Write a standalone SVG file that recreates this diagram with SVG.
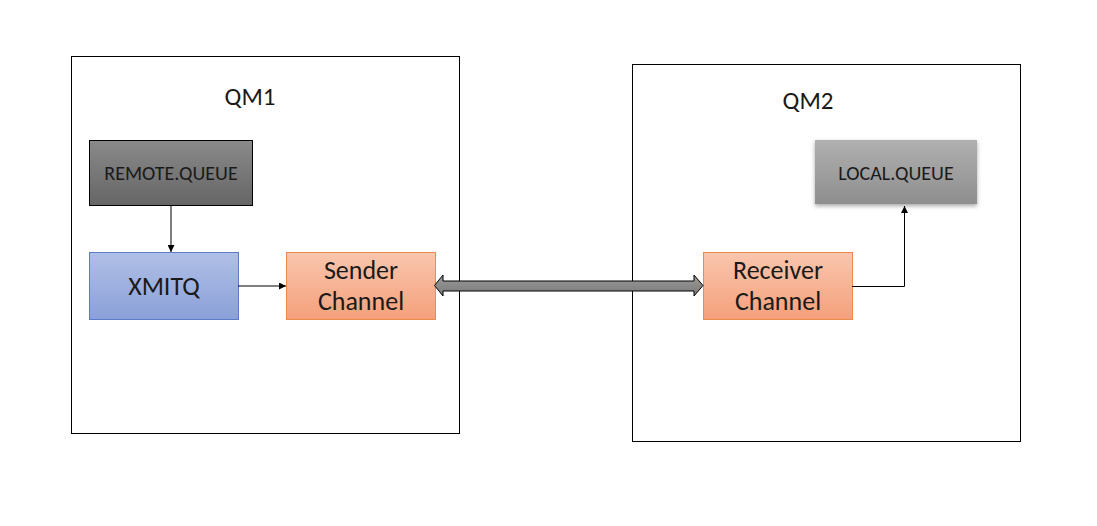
<svg xmlns="http://www.w3.org/2000/svg" width="1097" height="526" viewBox="0 0 1097 526">
<defs>
<linearGradient id="gDark" x1="0" y1="0" x2="0" y2="1"><stop offset="0" stop-color="#8a8a8a"/><stop offset="1" stop-color="#656565"/></linearGradient>
<linearGradient id="gLight" x1="0" y1="0" x2="0" y2="1"><stop offset="0" stop-color="#b0b0b0"/><stop offset="1" stop-color="#8e8e8e"/></linearGradient>
<linearGradient id="gBlue" x1="0" y1="0" x2="0" y2="1"><stop offset="0" stop-color="#b0bfe6"/><stop offset="1" stop-color="#8aa0d8"/></linearGradient>
<linearGradient id="gOrange" x1="0" y1="0" x2="0" y2="1"><stop offset="0" stop-color="#f9c6ad"/><stop offset="1" stop-color="#f5a07b"/></linearGradient>
<linearGradient id="gArrow" x1="0" y1="0" x2="0" y2="1"><stop offset="0" stop-color="#9a9a9a"/><stop offset="1" stop-color="#7a7a7a"/></linearGradient>
<filter id="shadow" x="-10%" y="-20%" width="120%" height="150%"><feDropShadow dx="0" dy="2" stdDeviation="2" flood-color="#000" flood-opacity="0.35"/></filter>
<marker id="ah" viewBox="0 0 10 10" refX="10" refY="5" markerWidth="7" markerHeight="7" markerUnits="userSpaceOnUse" orient="auto"><path d="M0,0 L10,5 L0,10 z" fill="#000"/></marker>
</defs>
<style>
.qm{fill:#fff;stroke:#000;stroke-width:1}
.t{font-family:"Calibri","Liberation Sans",sans-serif;fill:#1a1a1a;text-anchor:middle}
.big{font-size:26px}
.qml{font-size:25px}
.small{font-size:20px}
.conn{fill:none;stroke:#000;stroke-width:1}
</style>
<rect width="1097" height="526" fill="#fff"/>
<g id="qm1"><rect class="qm" x="71.5" y="56.5" width="388" height="377"/><text class="t qml" x="250" y="105">QM1</text></g>
<g id="qm2"><rect class="qm" x="632.5" y="64.5" width="388" height="377"/><text class="t qml" x="808" y="109">QM2</text></g>
<g id="remote-queue"><rect x="89.5" y="140.5" width="163" height="65" fill="url(#gDark)" stroke="#000"/><text class="t small" x="171" y="180">REMOTE.QUEUE</text></g>
<g id="xmitq"><rect x="89.5" y="252.5" width="149" height="67" fill="url(#gBlue)" stroke="#5b7dc8"/><text class="t big" x="164" y="295">XMITQ</text></g>
<g id="sender-channel"><rect x="286.5" y="252.5" width="149" height="67" fill="url(#gOrange)" stroke="#ed8a4e"/><text class="t big" x="361" y="279">Sender</text><text class="t big" x="361" y="310">Channel</text></g>
<g id="receiver-channel"><rect x="703.5" y="252.5" width="149" height="67" fill="url(#gOrange)" stroke="#ed8a4e"/><text class="t big" x="778" y="279">Receiver</text><text class="t big" x="778" y="310">Channel</text></g>
<g id="local-queue"><rect x="815" y="140" width="162" height="64" fill="url(#gLight)" filter="url(#shadow)"/><text class="t small" x="896" y="180">LOCAL.QUEUE</text></g>
<g id="connectors">
<line class="conn" x1="171" y1="205" x2="171" y2="252" marker-end="url(#ah)"/>
<line class="conn" x1="238" y1="286" x2="286" y2="286" marker-end="url(#ah)"/>
<polyline class="conn" points="852,286.5 904.5,286.5 904.5,206" marker-end="url(#ah)"/>
<path d="M434.5,285.5 L443,275 L443,281 L694,281 L694,275 L703,285.5 L694,296 L694,291 L443,291 L443,296 Z" fill="url(#gArrow)" stroke="#000" stroke-width="1"/>
</g>
</svg>
